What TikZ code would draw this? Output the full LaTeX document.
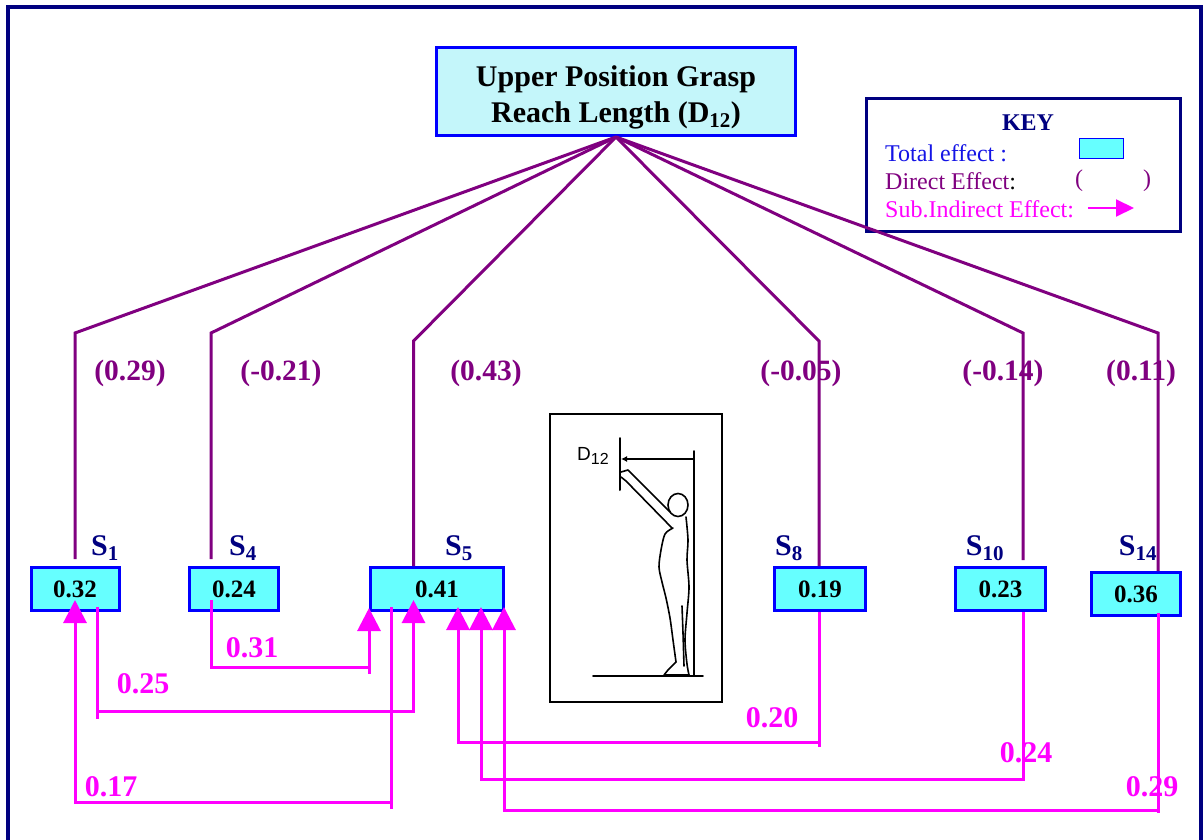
\documentclass[tikz,border=0pt]{standalone}
\usepackage{fontspec}
\setmainfont{Liberation Serif}
\newfontfamily\figsans{Liberation Sans}
\usetikzlibrary{arrows.meta,calc}

\definecolor{navyc}{RGB}{0,0,128}
\definecolor{boxblue}{RGB}{0,0,255}
\definecolor{boxcyan}{RGB}{102,255,255}
\definecolor{titlecyan}{RGB}{196,246,250}
\definecolor{direct}{RGB}{128,0,128}
\definecolor{indirect}{RGB}{255,0,255}
\definecolor{keyblue}{RGB}{20,20,230}

\tikzset{
  total/.style={draw=boxblue, line width=3pt, fill=boxcyan, inner sep=0pt,
                minimum height=43pt, font=\fontsize{25}{25}\selectfont\bfseries},
  dir/.style={draw=direct, line width=3pt},
  ind/.style={draw=indirect, line width=3pt},
  indarrow/.style={ind, -{Triangle[width=23pt,length=23pt]}},
  slabel/.style={text=navyc, inner sep=0pt, font=\fontsize{30}{30}\selectfont\bfseries},
  dlabel/.style={text=direct, inner sep=0pt, font=\fontsize{29.5}{29.5}\selectfont\bfseries},
  ilabel/.style={text=indirect, inner sep=0pt, font=\fontsize{30}{30}\selectfont\bfseries},
  keytext/.style={anchor=west, inner sep=0pt, font=\fontsize{24}{24}\selectfont},
  fig/.style={draw=black, line width=1.6pt, line join=round, line cap=round},
}

\begin{document}
\begin{tikzpicture}[x=1pt,y=-1pt]
\useasboundingbox (0,0) rectangle (1204,840);
\fill[white] (0,0) rectangle (1204,840);

% outer frame
\draw[navyc, line width=4pt] (7.5,7.5) rectangle (1201,846);

% dependent variable
\node[draw=boxblue, line width=3pt, fill=titlecyan, minimum width=359pt,
      minimum height=88pt, inner sep=0pt] (top) at (616,91.5) {};
\node[align=center, inner sep=0pt, font=\fontsize{30}{36}\selectfont\bfseries]
      (title) at (616,97) {Upper Position Grasp\\Reach Length (D\textsubscript{12})};

% key
\node[draw=navyc, line width=3pt, fill=white, minimum width=314pt,
      minimum height=133pt, inner sep=0pt] (key) at (1023.5,165) {};
\node[text=navyc, inner sep=0pt, font=\fontsize{24}{24}\selectfont\bfseries] (keyt) at (1028,123) {KEY};
\node[keytext, text=keyblue] (ktot) at (885,153) {Total effect :};
\node[draw=boxblue, line width=1.5pt, fill=boxcyan, minimum width=44pt,
      minimum height=20pt, inner sep=0pt] (kbox) at (1101.5,148.5) {};
\node[keytext, text=direct] (kdir) at (885,181) {Direct Effect\textcolor{black}{:}};
\node[text=direct, inner sep=0pt, font=\fontsize{24}{24}\selectfont] (kpl) at (1079,181) {(};
\node[text=direct, inner sep=0pt, font=\fontsize{24}{24}\selectfont] (kpr) at (1147,181) {)};
\node[keytext, text=indirect] (kind) at (885,209) {Sub.Indirect Effect:};
\coordinate (karr0) at (1088,208);
\coordinate (karr1) at (1134,208);
\draw[indirect, line width=2pt, -{Triangle[width=17pt,length=18pt]}] (karr0) -- (karr1);

% total effect boxes
\node[total, minimum width=88pt]  (s1)  at (75,589)    {0.32};
\node[total, minimum width=89pt]  (s4)  at (234,589)   {0.24};
\node[total, minimum width=133pt] (s5)  at (437,589)   {0.41};
\node[total, minimum width=91pt]  (s8)  at (820,589)   {0.19};
\node[total, minimum width=90pt]  (s10) at (1000.5,589){0.23};
\node[total, minimum width=89pt]  (s14) at (1136,594)  {0.36};

% variable names
\node[slabel] (n1)  at (105,548)  {S\textsubscript{1}};
\node[slabel] (n4)  at (243,548)  {S\textsubscript{4}};
\node[slabel] (n5)  at (459,548)  {S\textsubscript{5}};
\node[slabel] (n8)  at (789,548)  {S\textsubscript{8}};
\node[slabel] (n10) at (985,548)  {S\textsubscript{10}};
\node[slabel] (n14) at (1138,548) {S\textsubscript{14}};

% direct effects
\node[dlabel] (d1)  at (130,373)  {(0.29)};
\node[dlabel] (d4)  at (281,373)  {(-0.21)};
\node[dlabel] (d5)  at (486,373)  {(0.43)};
\node[dlabel] (d8)  at (801,373)  {(-0.05)};
\node[dlabel] (d10) at (1003,373) {(-0.14)};
\node[dlabel] (d14) at (1141,373) {(0.11)};

\coordinate (k1)  at (75,333);
\coordinate (k4)  at (211,333);
\coordinate (k5)  at (413.5,341);
\coordinate (k8)  at (819,341);
\coordinate (k10) at (1023,333);
\coordinate (k14) at (1158,333);

\draw[dir] (top.south) -- (k1)  -- ($(k1 |- s1.north)+(0,-7)$);
\draw[dir] (top.south) -- (k4)  -- ($(k4 |- s4.north)+(0,-7)$);
\draw[dir] (top.south) -- (k5)  -- (k5 |- s5.north);
\draw[dir] (top.south) -- (k8)  -- (k8 |- s8.north);
\draw[dir] (top.south) -- (k10) -- ($(k10 |- s10.north)+(0,-6)$);
\draw[dir] (top.south) -- (k14) -- (k14 |- s14.north);

% sub-indirect effects
\node[ilabel] (i31) at (252,648)  {0.31};
\node[ilabel] (i25) at (143,684)  {0.25};
\node[ilabel] (i17) at (111,787)  {0.17};
\node[ilabel] (i20) at (772,718)  {0.20};
\node[ilabel] (i24) at (1026,753) {0.24};
\node[ilabel] (i29) at (1152,787) {0.29};

% S4 -> S5
\coordinate (o4) at (211,600);
\coordinate (a31) at (369,608);
\draw[ind] (o4) |- (a31 |- 0,667);
\draw[indarrow] (a31 |- 0,674) -- (a31);
% S1 -> S5
\coordinate (o1) at (97.5,607);
\coordinate (a25) at (413.5,600);
\draw[ind] (o1) -- (o1 |- 0,719);
\draw[indarrow] (o1 |- 0,711) -| (a25);
% S5 -> S1
\coordinate (o5) at (391,607);
\coordinate (a17) at (75,600);
\draw[ind] (o5) -- (o5 |- 0,809);
\draw[indarrow] (o5 |- 0,802) -| (a17);
% S8 -> S5
\coordinate (o8) at (819,612);
\coordinate (a20) at (458,607);
\draw[ind] (o8) -- (o8 |- 0,747);
\draw[indarrow] (o8 |- 0,742) -| (a20);
% S10 -> S5
\coordinate (o10) at (1023,612);
\coordinate (a24) at (481,607);
\draw[indarrow] (o10) |- (a24 |- 0,779) -- (a24);
% S14 -> S5
\coordinate (o14) at (1158,613);
\coordinate (a29) at (504,607);
\draw[ind] (o14) -- (o14 |- 0,813);
\draw[indarrow] (o14 |- 0,810) -| (a29);

% measurement sketch
\node[draw=black, line width=2pt, fill=white, minimum width=172pt,
      minimum height=288pt, inner sep=0pt] (inset) at (636,558) {};
\node[inner sep=0pt] (dlbl) at (593,456)
  {\figsans\fontsize{19}{19}\selectfont D\raisebox{-4pt}{\fontsize{16}{16}\selectfont 12}};
\draw[fig, line width=2pt] (620,438) -- (620,490);
\draw[fig] (694,451) -- (694,676);
\draw[fig] (593,676) -- (703,676);
\draw[fig, -{Latex[length=6pt,width=6pt]}] (694,459) -- (621,459);
% figure: head, raised arm, body
\draw[fig] (678,505) ellipse[x radius=10pt, y radius=11.5pt];
\draw[fig] (621,472) -- (628,470) -- (670,512);
\draw[fig] (621,477) -- (626,481) -- (672,528);
\draw[fig] plot[smooth] coordinates {(686,517) (688,540) (687,560) (689,587) (687,613) (685,640) (687,664) (689,675)};
\draw[fig] plot[smooth] coordinates {(673,528) (665,534) (661,550) (659,567) (662,582) (666,598) (670,618) (673,640) (676,662)};
\draw[fig] (676,662) -- (668,670) -- (664,675) -- (689,675);
\draw[fig] plot[smooth] coordinates {(682,606) (683,633) (684,666)};
\end{tikzpicture}
\end{document}
